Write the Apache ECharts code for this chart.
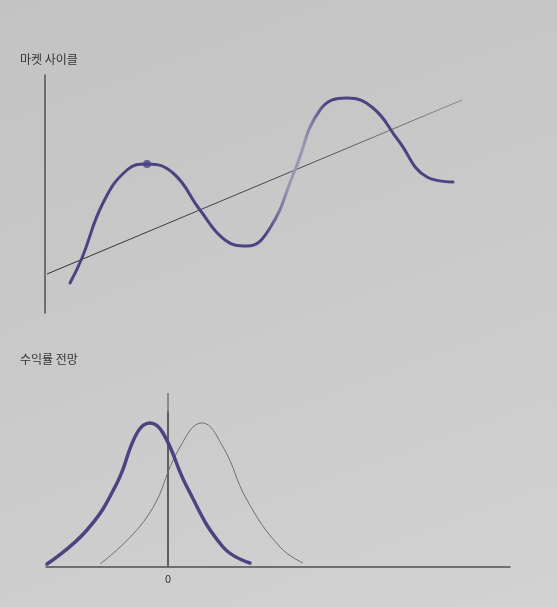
<!DOCTYPE html>
<html><head><meta charset="utf-8">
<script src="https://cdn.jsdelivr.net/npm/echarts@6/dist/echarts.min.js"></script>
<style>
html,body{margin:0;padding:0;}
body{width:557px;height:607px;background:linear-gradient(160deg,#c3c3c3 0%,#c9c9c9 45%,#d2d2d2 100%);}
#c{width:557px;height:607px;}
</style></head>
<body><div id="c"></div>
<script>
// ---- Market cycle (top) ----
const cycleX = [25,37,58,82,102,128,155,180,202,225,250,275,302,328,353,382,408];
const cycleY = [30,55,110,143,149,140,103,73,67,85,143,203,215,205,173,136,131];
const peakPoint = [102,149];
const trendX = [2,417];
const trendY = [39,213];
// ---- Return outlook (bottom) ----
const blueX = [-12.1,-8.1,-5.1,-3.1,-1.8,-0.5,1.9,5.5,8.2];
const blueY = [3,37,84,134,144,134,80,20,4];
const grayX = [-6.8,-2.1,1.2,3.4,5.5,7.9,11.2,13.5];
const grayY = [3,50,120,144,120,67,20,4];
const zeroLineY = [2,174];
const xTickValues = [0];
const titles = ['마켓 사이클','수익률 전망'];

const zip = (a,b)=>a.map((v,i)=>[v,b[i]]);
const FONT = '"Noto Sans CJK KR", "Noto Sans", sans-serif';
const axisCol = '#505050';
const blue = '#4a4580';
const faded = '#9896b2';

const chart = echarts.init(document.getElementById('c'), null, {renderer:'canvas'});
chart.setOption({
  backgroundColor: 'transparent',
  animation: false,
  textStyle: {fontFamily: FONT},
  title: [
    {text: titles[0], left: 15, top: 48, textStyle:{fontSize:12, fontWeight:'normal', color:'#333', fontFamily: FONT}},
    {text: titles[1], left: 15, top: 348, textStyle:{fontSize:12, fontWeight:'normal', color:'#333', fontFamily: FONT}}
  ],
  grid: [
    {left: 45, top: 75, width: 465, height: 238},
    {left: 46, top: 412, width: 464, height: 155},
    {left: 46, top: 393, width: 464, height: 174}
  ],
  xAxis: [
    {gridIndex:0, type:'value', min:0, max:465, show:false},
    {gridIndex:1, type:'value', min:-12.2, max:34.2, show:false},
    {gridIndex:2, type:'value', min:-12.2, max:34.2,
     axisLine:{show:true, onZero:false, lineStyle:{color:axisCol, width:1.5}},
     axisTick:{show:false}, splitLine:{show:false},
     axisLabel:{customValues:xTickValues, color:'#333', fontSize:11, margin:6, fontFamily:FONT}}
  ],
  yAxis: [
    {gridIndex:0, type:'value', min:0, max:238,
     axisLine:{show:true, lineStyle:{color:axisCol, width:1.5}},
     axisTick:{show:false}, axisLabel:{show:false}, splitLine:{show:false}},
    {gridIndex:1, type:'value', min:0, max:155,
     axisLine:{show:true, lineStyle:{color:axisCol, width:1.5}},
     axisTick:{show:false}, axisLabel:{show:false}, splitLine:{show:false}},
    {gridIndex:2, type:'value', min:0, max:174, show:false}
  ],
  series: [
    {type:'line', xAxisIndex:0, yAxisIndex:0, data: zip(trendX,trendY), showSymbol:false,
     lineStyle:{width:1, color:{type:'linear',x:0,y:0,x2:1,y2:0,colorStops:[{offset:0,color:'#2e2e2e'},{offset:0.6,color:'#4a4a4a'},{offset:1,color:'#8a8a8a'}]}}},
    {type:'line', xAxisIndex:0, yAxisIndex:0, data: zip(cycleX,cycleY), smooth:0.45, showSymbol:false,
     lineStyle:{width:3, cap:'round', color:{type:'linear',x:0,y:0,x2:1,y2:0,colorStops:[
       {offset:0,color:blue},{offset:0.51,color:blue},{offset:0.57,color:faded},{offset:0.61,color:faded},{offset:0.67,color:blue},{offset:1,color:blue}]}}},
    {type:'scatter', xAxisIndex:0, yAxisIndex:0, data:[peakPoint], symbolSize:8, itemStyle:{color:blue}},
    {type:'line', xAxisIndex:2, yAxisIndex:2, data: zip([0,0],zeroLineY), showSymbol:false,
     lineStyle:{width:1, color:'#4a4a4a'}},
    {type:'line', xAxisIndex:2, yAxisIndex:2, data: zip(grayX,grayY), smooth:0.45, showSymbol:false,
     lineStyle:{width:1, color:'#6e6e6e'}},
    {type:'line', xAxisIndex:2, yAxisIndex:2, data: zip(blueX,blueY), smooth:0.45, showSymbol:false,
     lineStyle:{width:3.5, cap:'round', color:blue}}
  ]
});
</script></body></html>
